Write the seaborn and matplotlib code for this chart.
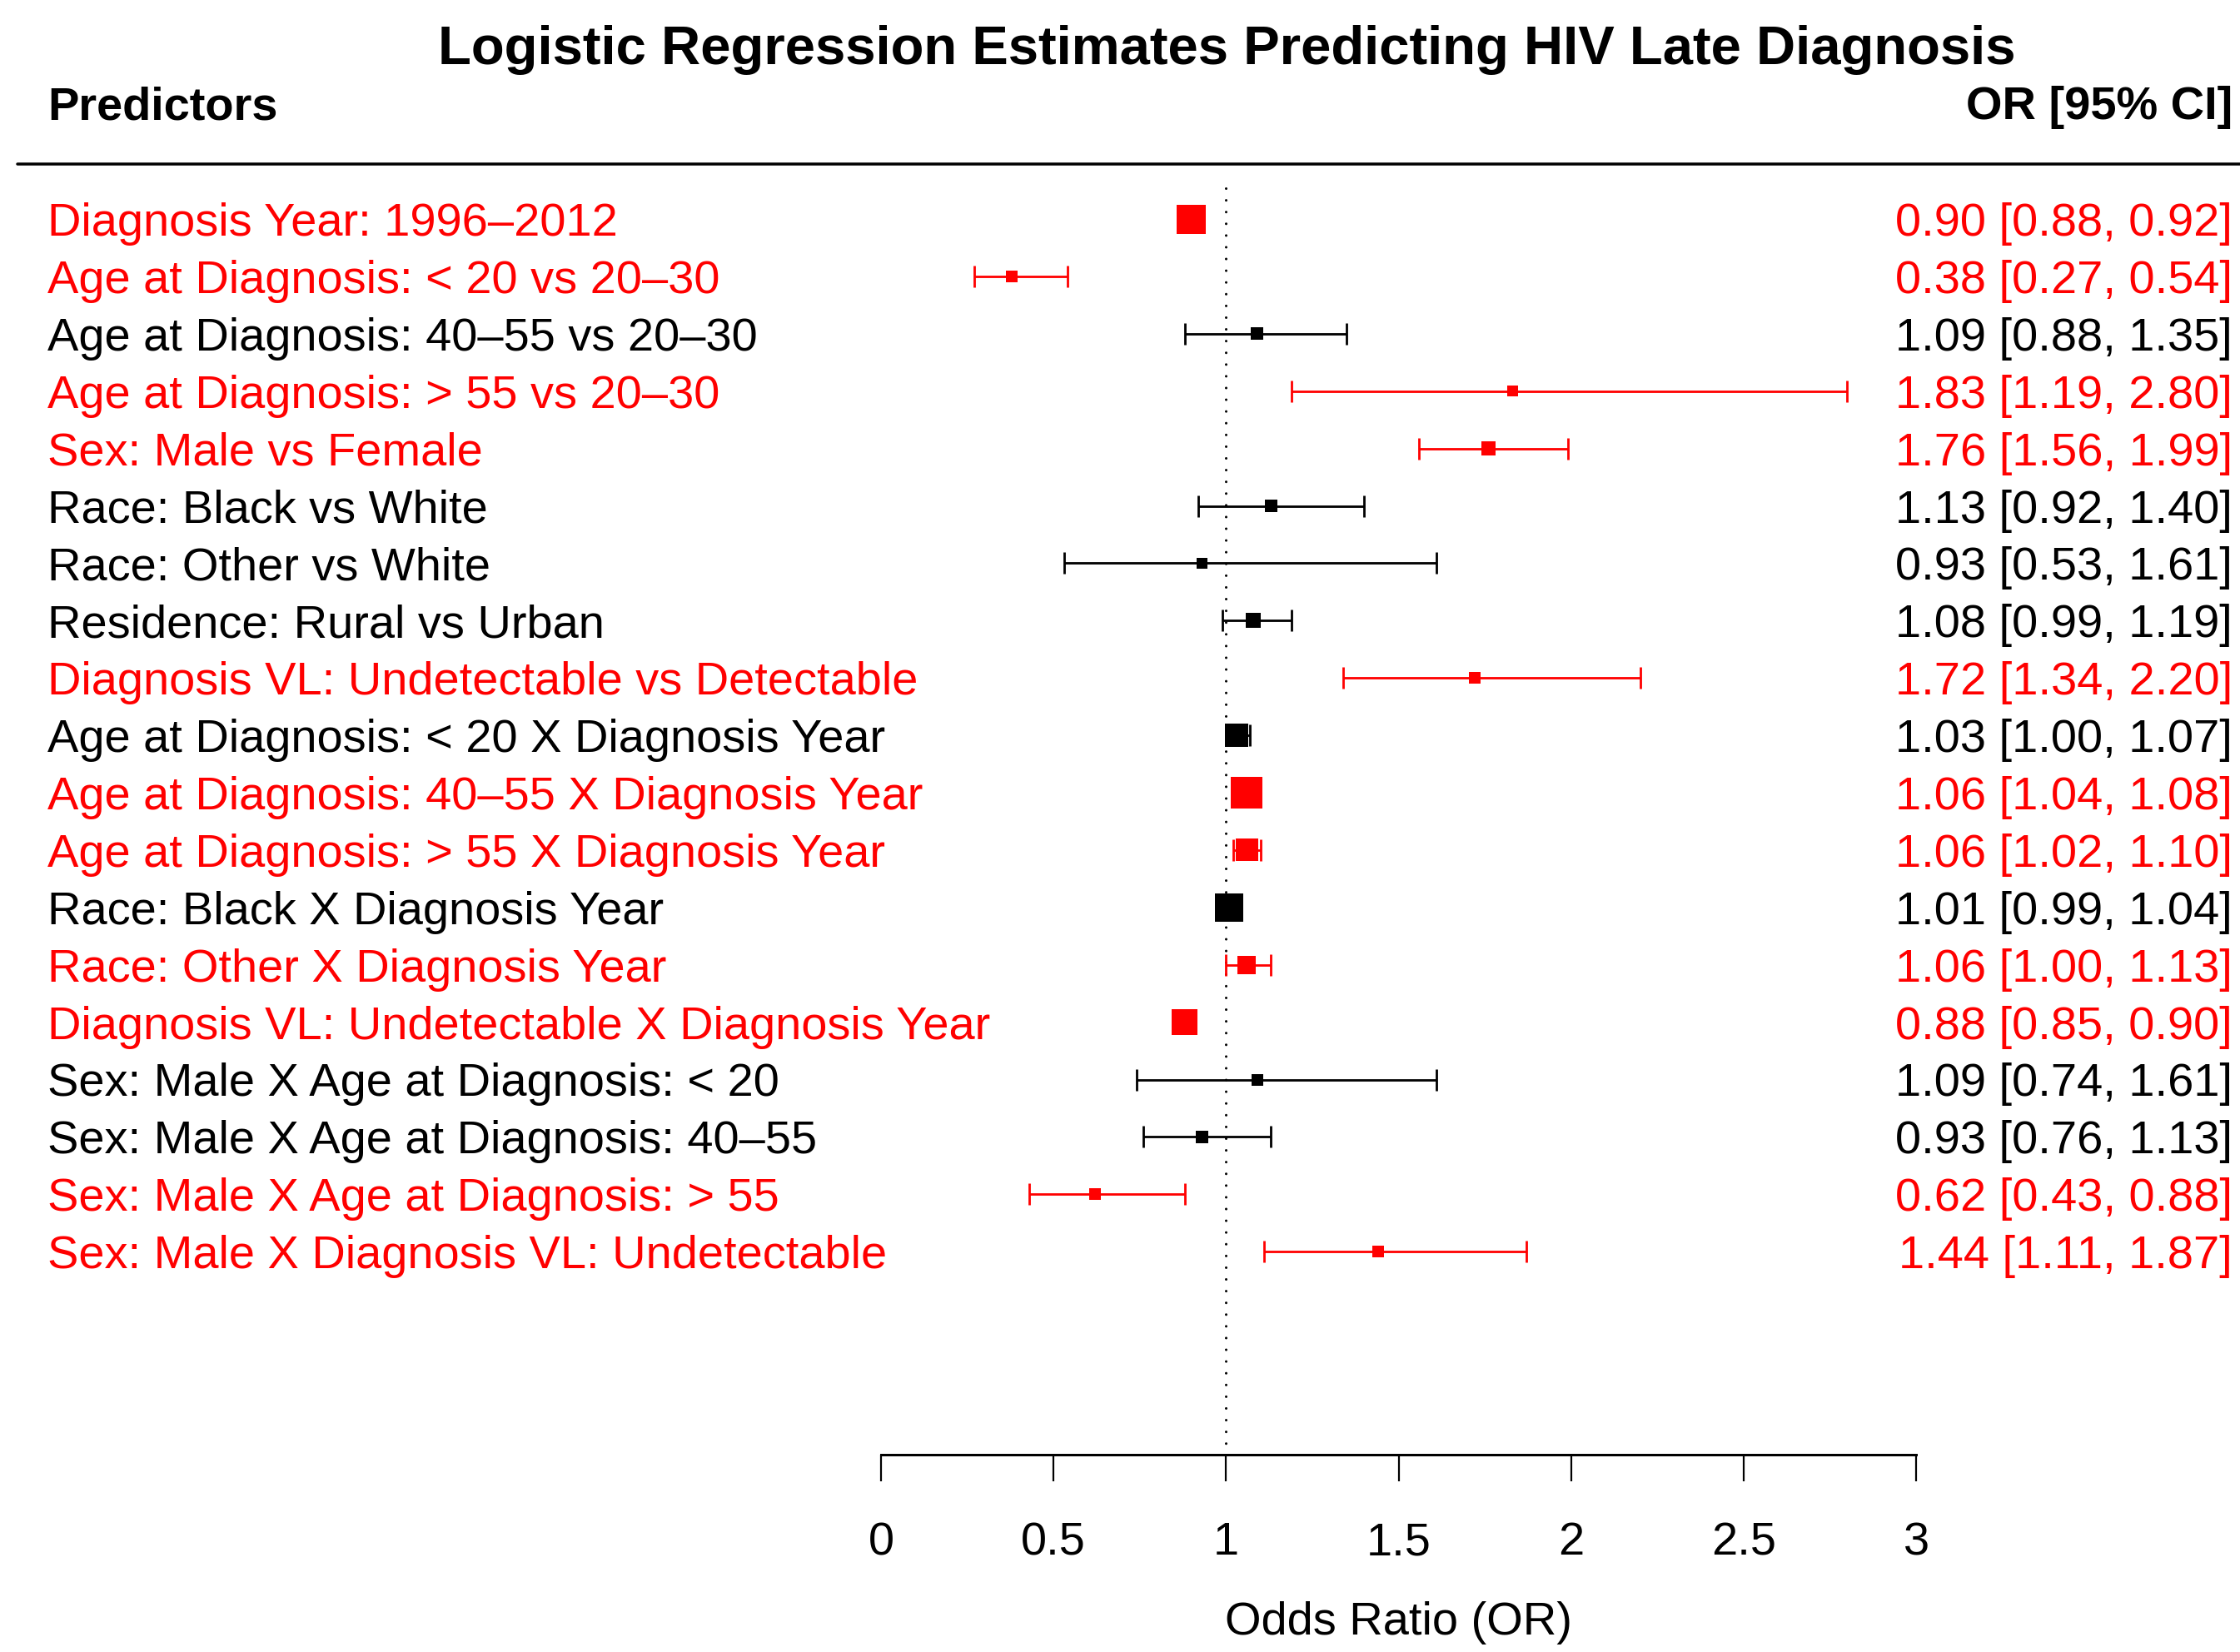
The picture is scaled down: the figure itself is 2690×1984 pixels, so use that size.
import matplotlib
matplotlib.use("Agg")
import matplotlib.pyplot as plt
import matplotlib.transforms as mtransforms
from matplotlib.lines import Line2D
import seaborn as sns
import pandas as pd
import numpy as np

# ---------------- data ----------------
predictors = [
    "Diagnosis Year: 1996\u20132012",
    "Age at Diagnosis: < 20 vs 20\u201330",
    "Age at Diagnosis: 40\u201355 vs 20\u201330",
    "Age at Diagnosis: > 55 vs 20\u201330",
    "Sex: Male vs Female",
    "Race: Black vs White",
    "Race: Other vs White",
    "Residence: Rural vs Urban",
    "Diagnosis VL: Undetectable vs Detectable",
    "Age at Diagnosis: < 20 X Diagnosis Year",
    "Age at Diagnosis: 40\u201355 X Diagnosis Year",
    "Age at Diagnosis: > 55 X Diagnosis Year",
    "Race: Black X Diagnosis Year",
    "Race: Other X Diagnosis Year",
    "Diagnosis VL: Undetectable X Diagnosis Year",
    "Sex: Male X Age at Diagnosis: < 20",
    "Sex: Male X Age at Diagnosis: 40\u201355",
    "Sex: Male X Age at Diagnosis: > 55",
    "Sex: Male X Diagnosis VL: Undetectable",
]
odds_ratio = [0.90, 0.38, 1.09, 1.83, 1.76, 1.13, 0.93, 1.08, 1.72, 1.03,
              1.06, 1.06, 1.01, 1.06, 0.88, 1.09, 0.93, 0.62, 1.44]
ci_lower = [0.88, 0.27, 0.88, 1.19, 1.56, 0.92, 0.53, 0.99, 1.34, 1.00,
            1.04, 1.02, 0.99, 1.00, 0.85, 0.74, 0.76, 0.43, 1.11]
ci_upper = [0.92, 0.54, 1.35, 2.80, 1.99, 1.40, 1.61, 1.19, 2.20, 1.07,
            1.08, 1.10, 1.04, 1.13, 0.90, 1.61, 1.13, 0.88, 1.87]
significant = [True, True, False, True, True, False, False, False, True, False,
               True, True, False, True, True, False, False, True, True]
# relative weight (square side, px)
weight = [35, 14, 15, 13, 17, 15, 13, 18, 14, 28, 38, 27, 34, 22, 31, 14, 15, 14, 14]
x_ticks = [0, 0.5, 1, 1.5, 2, 2.5, 3]
x_tick_labels = ["0", "0.5", "1", "1.5", "2", "2.5", "3"]

df = pd.DataFrame({
    "label": predictors,
    "or": odds_ratio,
    "lo": ci_lower,
    "hi": ci_upper,
    "sig": ["sig" if s else "ns" for s in significant],
    "w": weight,
})
df["row"] = np.arange(len(df))
df["text"] = [f"{o:.2f} [{l:.2f}, {h:.2f}]" for o, l, h in zip(df["or"], df["lo"], df["hi"])]
palette = {"sig": "#FF0000", "ns": "#000000"}

# ---------------- style ----------------
sns.set_theme(style="white")
plt.rcParams["font.family"] = ["Liberation Sans", "DejaVu Sans"]
plt.rcParams["text.color"] = "black"
plt.rcParams["axes.labelcolor"] = "black"
plt.rcParams["xtick.color"] = "black"
plt.rcParams["axes.edgecolor"] = "black"
FS = 40.3

W_PX, H_PX = 2690, 1984
DPI = 100
fig = plt.figure(figsize=(W_PX / DPI, H_PX / DPI), dpi=DPI)
fig.patch.set_facecolor("white")

x0_px, x3_px = 1058, 2301
top_px, bot_px = 197, 1747
ax = fig.add_axes([x0_px / W_PX, 1 - bot_px / H_PX,
                   (x3_px - x0_px) / W_PX, (bot_px - top_px) / H_PX])
row0_px, row_step = 263, 68.9
ax.set_xlim(0, 3)
ax.set_ylim((bot_px - row0_px) / row_step, -(row0_px - top_px) / row_step)
ax.set_facecolor("none")

# reference line at OR = 1
ax.plot([1, 1], [(226 - row0_px) / row_step, ax.get_ylim()[0]], color="black",
        lw=2.2, linestyle=(0, (0.01, 4.6)), dash_capstyle="round", zorder=1,
        clip_on=False)

# confidence intervals
px2pt = 72 / DPI
for key, sub in df.groupby("sig"):
    ax.errorbar(sub["or"], sub["row"],
                xerr=[sub["or"] - sub["lo"], sub["hi"] - sub["or"]],
                fmt="none", ecolor=palette[key], elinewidth=2.8 * px2pt,
                capsize=13 * px2pt, capthick=2.8 * px2pt, zorder=2)

# point estimates (squares sized by weight)
sns.scatterplot(data=df, x="or", y="row", hue="sig", palette=palette,
                marker="s", s=(df["w"] * px2pt) ** 2, linewidth=0,
                legend=False, ax=ax, zorder=3)

# axes styling
for sp in ["top", "left", "right"]:
    ax.spines[sp].set_visible(False)
ax.spines["bottom"].set_linewidth(3 * px2pt)
ax.spines["bottom"].set_color("black")
ax.set_yticks([])
ax.set_xticks(x_ticks)
ax.set_xticklabels(x_tick_labels)
ax.tick_params(axis="x", direction="out", length=32 * px2pt, width=2.2 * px2pt,
               color="black", labelcolor="black", pad=48 * px2pt, labelsize=FS,
               bottom=True)
ax.set_xlabel("Odds Ratio (OR)", fontsize=FS, labelpad=44 * px2pt, color="black")
ax.set_ylabel("")
ax.grid(False)

# row texts
trans = mtransforms.blended_transform_factory(fig.transFigure, ax.transData)
cap_off = 20 / row_step
for _, r in df.iterrows():
    col = palette[r["sig"]]
    ax.text(57 / W_PX, r["row"] + cap_off, r["label"], transform=trans,
            ha="left", va="baseline", fontsize=FS, color=col, clip_on=False)
    ax.text(2681 / W_PX, r["row"] + cap_off, r["text"], transform=trans,
            ha="right", va="baseline", fontsize=FS, color=col, clip_on=False)

# headers and title
fig.text(1473 / W_PX, 1 - 77 / H_PX,
         "Logistic Regression Estimates Predicting HIV Late Diagnosis",
         ha="center", va="baseline", fontsize=47, fontweight="bold", color="black")
fig.text(57 / W_PX, 1 - 143 / H_PX, "Predictors", ha="left", va="baseline",
         fontsize=FS, fontweight="bold", color="black")
fig.text(2681 / W_PX, 1 - 143 / H_PX, "OR [95% CI]", ha="right", va="baseline",
         fontsize=FS, fontweight="bold", color="black")
fig.add_artist(Line2D([21 / W_PX, 1.0], [1 - top_px / H_PX, 1 - top_px / H_PX],
                      transform=fig.transFigure, color="black", lw=3.5 * px2pt))

fig.savefig("out.png", dpi=DPI, facecolor="white")
